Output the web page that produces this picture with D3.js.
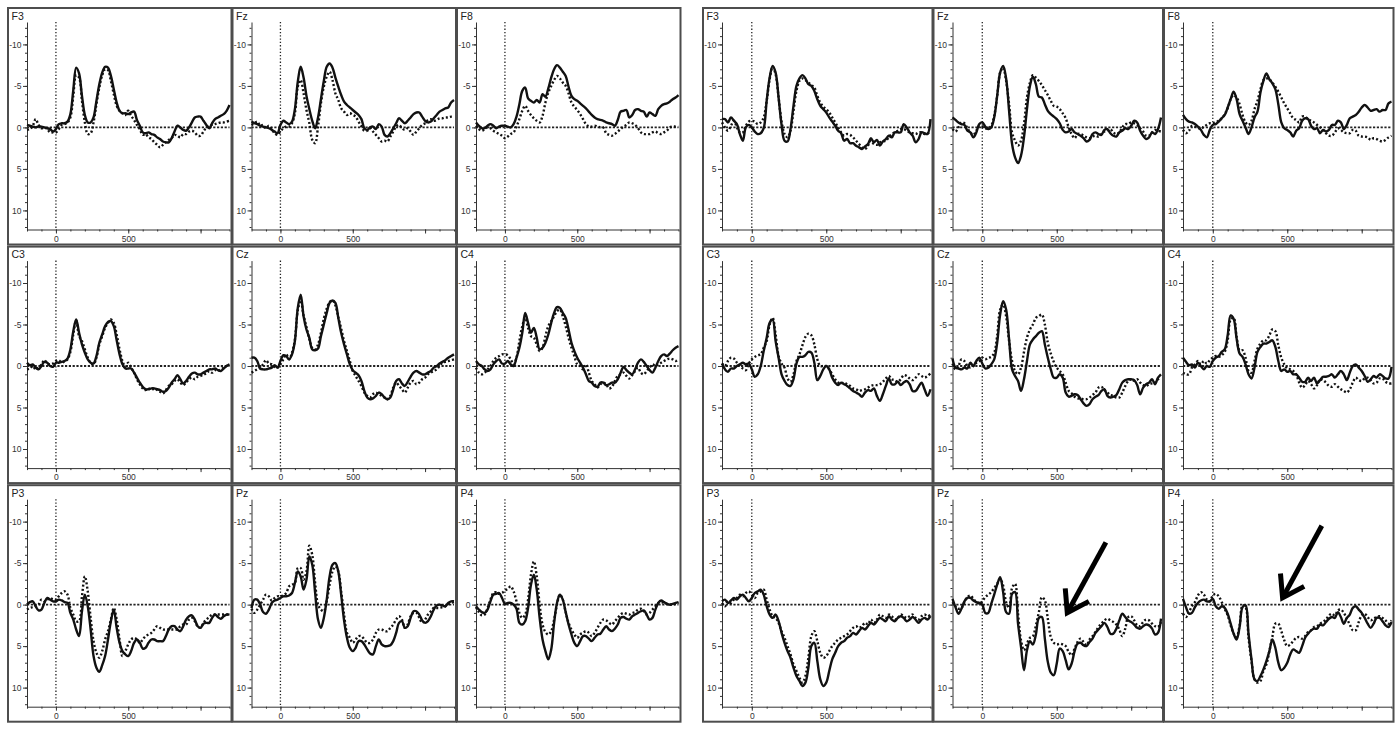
<!DOCTYPE html>
<html><head><meta charset="utf-8">
<script src="https://cdn.jsdelivr.net/npm/d3@7"></script>
<style>
html,body{margin:0;padding:0;background:#fff;}
svg{display:block;font-family:"Liberation Sans",Arial,sans-serif;}
</style></head><body>
<svg id="chart" width="1400" height="730"></svg>
<script>
// ---- sampling grid (ms) ----
const times = [-200,-180,-160,-140,-120,-100,-80,-60,-40,-20,
  0,20,40,60,80,100,120,140,160,180,
  200,220,240,260,280,300,320,340,360,380,
  400,420,440,460,480,500,520,540,560,580,
  600,620,640,660,680,700,720,740,760,780,
  800,820,840,860,880,900,920,940,960,980,
  1000,1020,1040,1060,1080,1100,1120,1140,1160,1180,1200];

const channels = ["F3","Fz","F8","C3","Cz","C4","P3","Pz","P4"];
const yTickValues = [-10,-5,0,5,10];
const yMinorTicks = [-12,-11,-10,-9,-8,-7,-6,-5,-4,-3,-2,-1,0,1,2,3,4,5,6,7,8,9,10,11,12];
const xMajorTicks = [0,500,1000];
const xTickLabels = [0,500];
const xMinorTicks = [-200,-100,0,100,200,300,400,500,600,700,800,900,1000,1100,1200];

// ---- left block, solid ----
const L_F3_solid = [-0.3,-0.2,-0.1,0.0,-0.1,-0.1,0.0,0.1,0.2,0.5,
 0.2,-0.4,-0.5,-0.5,-0.7,-1.6,-4.5,-7.2,-6.5,-3.8,
 -1.5,-0.6,-0.6,-1.2,-3.2,-5.2,-6.6,-7.3,-7.2,-6.2,
 -4.6,-3.0,-2.0,-1.7,-1.7,-1.6,-1.8,-1.9,-0.9,-0.2,
 0.6,0.7,0.6,0.8,0.9,1.2,1.4,1.7,1.8,1.8,
 1.3,0.5,-0.2,0.0,0.3,0.4,0.0,-0.6,-1.2,-1.3,
 -1.3,-0.8,-0.3,0.1,-0.5,-1.0,-1.2,-1.4,-1.6,-2.0,
 -2.7];
const L_F3_dotted = [0.3,0.2,-0.2,-1.0,-0.3,0.1,0.0,0.2,0.6,0.6,
 0.6,0.2,-0.3,-0.4,-0.6,-1.2,-3.8,-6.3,-6.0,-3.2,
 -0.6,0.8,0.7,-0.6,-2.8,-4.8,-6.3,-7.0,-6.9,-5.6,
 -4.0,-2.6,-2.0,-1.7,-1.5,-2.0,-1.4,-0.9,-0.3,0.2,
 0.9,0.8,1.2,1.4,1.8,2.1,2.4,2.1,1.8,1.5,
 1.3,0.9,1.0,1.2,0.8,0.8,0.5,0.4,0.6,1.0,
 1.0,0.5,0.0,-0.2,-0.3,-0.4,-0.5,-0.6,-0.6,-0.7,
 -0.8];
const L_Fz_solid = [-0.7,-0.5,-0.4,-0.2,-0.1,0.0,0.1,0.3,0.5,0.7,
 -0.3,-0.8,-0.6,-0.4,-0.7,-2.2,-5.5,-7.3,-6.0,-3.8,
 -2.2,-0.8,0.1,-1.2,-3.4,-5.6,-7.3,-7.7,-7.2,-6.0,
 -4.9,-3.9,-3.1,-2.7,-2.4,-2.1,-1.8,-1.5,-1.0,0.1,
 0.3,0.0,-0.1,0.2,-0.4,-0.1,0.9,1.1,0.7,0.1,
 -0.5,-1.1,-0.8,-0.5,-0.8,-1.2,-1.6,-1.8,-1.8,-1.3,
 -0.8,-0.6,-0.7,-1.1,-1.5,-1.9,-2.1,-2.3,-2.4,-3.0,
 -3.3];
const L_Fz_dotted = [-0.3,-0.5,-0.7,-0.2,-0.3,0.1,-0.2,0.2,0.7,0.9,
 0.5,0.1,-0.1,-0.1,-0.5,-1.7,-4.9,-5.7,-4.1,-2.1,
 -0.5,1.5,1.9,-0.1,-2.9,-4.9,-6.1,-6.7,-5.7,-4.1,
 -3.3,-2.3,-1.9,-1.5,-1.7,-1.5,-1.3,-0.7,-0.1,0.4,
 0.4,0.1,0.5,0.9,1.3,1.7,1.6,1.7,1.1,0.5,
 -0.1,-0.3,0.1,0.3,0.1,0.5,0.9,0.5,0.1,-0.3,
 -0.5,-0.9,-1.0,-0.8,-0.9,-1.1,-1.1,-1.2,-1.2,-1.3,
 -1.4];
const L_F8_solid = [-0.6,-0.2,0.1,0.1,-0.2,-0.4,-0.2,0.1,-0.1,-0.2,
 -0.2,-0.1,0.0,-0.4,-1.3,-2.8,-4.4,-4.8,-3.5,-3.2,
 -3.0,-3.3,-3.0,-4.0,-3.7,-4.7,-6.0,-7.0,-7.5,-7.2,
 -6.7,-6.2,-4.9,-3.8,-3.4,-3.2,-2.9,-2.6,-2.3,-1.9,
 -1.5,-1.2,-1.0,-0.9,-0.8,-0.6,-0.5,-0.4,-0.2,-0.9,
 -1.9,-2.0,-2.1,-1.2,-1.5,-2.1,-2.2,-2.0,-1.9,-1.3,
 -1.8,-1.6,-1.4,-2.2,-2.6,-2.8,-2.9,-3.1,-3.4,-3.6,
 -3.9];
const L_F8_dotted = [-0.2,0.2,0.4,0.2,0.0,0.1,0.4,0.6,0.8,1.0,
 1.3,1.1,0.8,0.6,-0.1,-1.0,-2.0,-2.6,-2.0,-1.5,
 -1.1,-0.8,-0.6,-1.4,-3.0,-4.2,-5.0,-5.7,-6.2,-5.9,
 -5.4,-5.0,-4.1,-3.0,-2.5,-2.1,-1.6,-1.0,-0.4,-0.1,
 -0.1,-0.2,-0.1,0.0,0.0,0.7,0.9,1.0,0.8,0.5,
 0.2,-0.1,-0.3,-0.6,-0.5,-0.3,0.1,0.6,0.8,0.8,
 0.8,0.6,0.5,0.7,0.8,0.6,0.4,0.0,-0.1,-0.1,
 -0.1];
const L_C3_solid = [-0.4,-0.1,-0.2,0.2,0.4,0.0,-0.5,-0.4,0.0,0.1,
 -0.4,-0.4,-0.5,-0.6,-0.9,-2.0,-4.2,-5.6,-4.0,-2.6,
 -1.6,-0.8,-0.4,-0.3,-1.2,-2.8,-3.8,-4.8,-5.3,-5.4,
 -4.8,-3.1,-1.4,-0.2,0.3,0.3,0.3,0.8,1.4,2.0,
 2.5,2.8,2.8,2.7,2.7,2.8,2.9,3.1,3.0,2.6,
 2.0,1.6,1.1,1.6,2.1,1.8,1.3,0.9,0.8,1.0,
 1.0,0.8,0.6,0.4,0.4,0.3,0.5,0.6,0.3,0.0,
 -0.2];
const L_C3_dotted = [0.4,0.3,0.0,0.4,0.2,-0.2,-0.7,-0.3,-0.2,-0.3,
 -0.6,-0.7,-0.4,-0.6,-0.8,-1.7,-3.8,-5.5,-3.6,-3.0,
 -2.0,-1.0,-0.4,-0.2,-1.0,-2.6,-3.6,-4.6,-5.2,-5.6,
 -5.2,-3.8,-2.0,-0.6,0.1,-0.4,0.2,0.8,1.6,2.2,
 2.7,2.9,2.7,2.9,2.7,2.9,3.1,3.3,2.9,2.4,
 2.2,1.8,1.6,2.0,2.3,2.0,1.6,1.4,1.6,1.3,
 1.2,1.0,0.9,0.6,0.8,0.5,0.6,0.4,0.2,0.0,
 -0.2];
const L_Cz_solid = [-1.0,-1.0,-0.6,0.3,0.4,0.4,0.3,0.2,-0.1,0.2,
 -0.6,-1.3,-1.2,-0.8,-1.4,-3.0,-7.0,-8.6,-6.0,-4.4,
 -3.4,-2.0,-1.9,-2.1,-3.6,-5.0,-6.4,-7.6,-7.9,-7.6,
 -5.8,-4.0,-2.6,-1.4,-0.2,0.5,0.8,1.1,1.8,3.0,
 3.8,4.0,3.9,3.6,3.2,3.4,3.8,4.0,3.8,2.8,
 1.8,1.6,2.1,2.4,1.9,1.3,0.8,0.6,0.8,1.0,
 1.0,0.8,0.6,0.2,0.0,-0.3,-0.5,-0.7,-1.0,-1.2,
 -1.4];
const L_Cz_dotted = [0.8,0.6,0.4,0.2,-0.2,-0.7,-0.3,-0.2,0.1,0.2,
 -0.2,-0.8,-1.4,-0.8,-1.6,-3.2,-6.7,-7.9,-6.1,-4.7,
 -3.2,-2.2,-2.0,-2.6,-4.0,-5.7,-6.9,-7.7,-7.9,-7.3,
 -5.9,-4.5,-3.0,-1.8,-0.6,0.6,1.2,1.8,2.4,3.2,
 3.6,3.8,3.4,3.2,3.4,3.6,3.8,4.0,3.6,2.6,
 2.0,2.4,2.8,3.2,2.6,2.0,1.8,2.2,2.0,1.6,
 1.4,1.0,0.8,0.6,0.4,0.0,-0.4,-0.5,-0.6,-0.7,
 -0.8];
const L_C4_solid = [-0.6,-0.2,0.0,0.4,0.6,0.4,-0.2,-0.6,-0.8,-0.3,
 -0.3,-0.6,-0.2,0.0,-1.0,-2.2,-4.0,-6.4,-5.2,-4.0,
 -4.6,-3.4,-2.0,-2.2,-2.8,-3.8,-5.2,-6.4,-7.1,-7.0,
 -6.4,-5.8,-4.4,-2.8,-1.8,-1.0,-0.4,0.2,1.0,1.8,
 2.0,2.4,2.5,2.0,2.0,2.3,2.2,2.0,2.0,1.6,
 0.8,0.1,0.5,0.8,1.0,0.4,-0.4,-0.8,-0.5,0.0,
 0.5,0.8,0.2,-0.6,-1.2,-1.4,-1.2,-1.5,-1.9,-2.2,
 -2.4];
const L_C4_dotted = [0.2,0.8,1.0,0.8,0.4,0.0,-0.6,-1.0,-1.2,-1.4,
 -1.4,-1.3,-0.8,-0.2,-1.0,-3.0,-4.8,-5.8,-4.6,-3.6,
 -3.4,-2.6,-1.8,-2.2,-3.6,-4.8,-5.4,-6.0,-6.6,-6.8,
 -6.0,-4.8,-3.4,-2.2,-1.2,-0.2,0.0,0.4,-0.2,0.8,
 1.8,2.2,2.6,2.2,2.0,2.2,2.7,2.5,1.8,1.2,
 1.0,0.8,1.2,1.5,1.1,0.6,0.2,0.8,1.0,0.6,
 0.2,-0.2,0.0,-0.2,-0.4,-0.6,-0.8,-0.9,-0.8,-0.6,
 -0.8];
const L_P3_solid = [0.0,-0.3,-0.4,0.2,0.7,0.6,-0.2,-0.8,-0.6,-0.4,
 -0.4,-0.6,-0.5,-0.3,-0.2,1.0,1.8,3.0,3.8,0.8,
 -1.2,0.2,3.0,6.2,7.6,8.1,7.3,6.2,4.2,2.0,
 0.6,2.8,4.6,5.6,6.0,6.2,5.6,4.6,4.2,4.6,
 5.3,5.2,4.6,4.2,4.2,4.4,4.4,4.4,3.8,3.0,
 2.6,2.6,3.0,3.2,2.6,1.8,1.4,1.3,1.8,2.6,
 2.8,2.3,2.2,2.2,1.6,1.2,1.5,1.7,1.4,1.2,
 1.2];
const L_P3_dotted = [0.6,0.4,0.3,0.2,0.0,-0.6,-0.4,-0.6,-0.8,-0.6,
 -0.6,-1.0,-1.4,-1.6,-1.2,0.4,1.2,2.0,2.0,-1.0,
 -3.4,-1.6,1.6,4.4,5.8,6.4,5.6,4.2,3.2,1.8,
 0.4,1.8,4.2,6.2,5.6,4.8,4.2,4.0,4.2,4.6,
 4.2,3.8,3.6,3.4,3.0,2.6,2.8,3.0,3.0,3.0,
 3.0,3.0,3.0,2.6,2.4,2.4,1.8,1.6,2.0,2.6,
 2.8,2.2,1.8,1.5,1.2,1.2,1.2,1.2,1.2,1.2,
 1.2];
const L_Pz_solid = [0.4,-0.6,-0.6,0.0,0.9,1.1,0.6,-0.2,-0.5,-0.6,
 -0.8,-1.0,-1.0,-1.1,-1.4,-2.6,-4.0,-3.4,-1.8,-3.0,
 -5.8,-4.8,-1.4,1.8,2.8,1.6,-0.6,-3.4,-4.8,-5.0,
 -4.0,-1.2,1.9,4.0,5.2,5.6,5.2,4.4,4.4,4.8,
 5.4,5.9,6.0,5.0,4.2,4.8,5.0,5.0,4.9,4.4,
 3.4,2.2,2.0,2.8,2.6,1.6,0.8,0.8,1.2,1.9,
 2.2,2.0,1.4,0.6,0.1,0.0,0.1,0.2,-0.2,-0.4,
 -0.4];
const L_Pz_dotted = [0.5,1.0,0.6,0.0,-0.6,-1.2,-1.0,-0.5,-0.8,-1.0,
 -1.0,-1.1,-1.4,-2.2,-2.4,-2.6,-4.4,-4.4,-3.0,-4.0,
 -7.1,-6.0,-2.6,0.0,0.6,0.8,-0.4,-2.4,-4.0,-4.6,
 -4.0,-1.6,1.2,3.4,4.0,4.6,4.2,3.8,3.8,4.2,
 4.6,4.6,4.2,3.4,3.0,3.0,3.2,3.2,2.8,2.4,
 1.8,1.4,1.8,2.8,2.4,1.4,1.0,1.0,1.6,2.2,
 1.8,1.2,0.8,0.4,0.4,0.4,0.3,0.2,0.0,-0.2,
 -0.3];
const L_P4_solid = [0.2,0.6,0.9,1.0,0.6,-0.4,-1.2,-1.3,-1.4,-0.8,
 -0.1,-0.2,-0.2,0.0,0.5,2.2,2.4,2.0,0.4,-2.4,
 -3.6,-1.8,1.6,4.2,5.6,6.6,5.4,2.2,-0.2,-1.2,
 -0.6,0.9,2.4,3.6,4.6,5.0,4.4,3.8,3.8,4.1,
 4.4,4.0,3.6,3.5,3.0,2.6,3.0,3.2,2.9,2.4,
 1.6,1.5,1.7,1.8,1.4,1.2,1.0,0.8,0.7,1.2,
 1.8,1.6,0.6,-0.2,-0.5,-0.3,-0.1,0.0,-0.1,-0.2,
 -0.3];
const L_P4_dotted = [0.3,0.9,1.3,1.2,0.4,-0.6,-1.4,-1.5,-1.3,-1.4,
 -1.7,-1.9,-2.2,-1.6,-0.4,1.0,1.6,1.2,-0.6,-3.6,
 -5.2,-3.4,0.0,2.4,3.3,3.6,3.2,1.8,0.0,-1.2,
 -0.6,0.9,2.2,3.0,3.6,4.0,3.6,3.4,3.2,3.4,
 3.8,3.4,2.8,2.2,1.8,1.9,2.2,2.4,2.0,1.6,
 1.2,1.0,1.1,1.2,1.0,0.9,0.6,0.5,0.8,1.2,
 1.0,0.6,0.2,-0.2,-0.3,-0.2,-0.1,0.0,0.0,-0.1,
 -0.2];

// ---- right block ----
const R_F3_solid = [-1.0,-1.0,-0.6,-1.2,-0.8,-0.4,0.8,1.6,0.0,-0.3,
 0.0,0.5,0.8,0.7,0.1,-3.2,-6.0,-7.4,-6.6,-3.6,
 -0.3,1.6,1.7,0.2,-2.6,-5.0,-5.9,-6.3,-5.9,-5.2,
 -5.0,-4.4,-3.4,-2.6,-2.2,-1.8,-1.2,-0.7,-0.2,0.4,
 0.7,1.6,1.4,1.9,1.9,2.2,2.4,2.6,2.3,2.0,
 1.3,1.8,1.5,2.2,1.7,1.4,1.0,1.2,0.6,0.6,
 0.6,-0.4,0.0,0.6,1.0,1.8,1.4,0.6,0.7,0.8,
 -1.0];
const R_F3_dotted = [-0.6,0.0,0.4,-0.2,-0.8,0.0,0.6,0.6,-0.2,-0.7,
 -0.8,-0.7,-0.4,-0.6,-1.2,-3.2,-5.8,-7.3,-6.4,-3.6,
 -0.7,0.8,1.2,0.4,-2.0,-4.4,-5.6,-5.9,-5.7,-5.4,
 -5.1,-4.8,-3.8,-3.0,-2.5,-2.2,-1.8,-1.2,-0.6,0.0,
 0.6,1.0,0.8,0.9,1.2,1.6,2.0,2.4,2.6,2.2,
 1.6,2.0,2.1,1.8,1.7,1.6,1.2,0.8,0.6,0.4,
 0.2,0.2,0.4,0.6,0.7,0.8,0.6,0.6,0.8,0.7,
 0.6];
const R_Fz_solid = [-1.2,-0.9,-0.6,-0.4,-0.3,0.4,0.6,1.2,0.6,-0.4,
 -0.6,-0.1,0.2,0.0,-1.2,-3.8,-6.6,-7.4,-5.9,-2.0,
 2.0,3.6,4.3,3.4,1.2,-2.2,-5.0,-6.1,-5.2,-3.7,
 -3.6,-2.8,-2.0,-1.6,-1.3,-1.0,-0.5,0.3,0.6,0.5,
 0.2,0.6,0.8,1.0,1.3,1.7,1.5,0.8,0.6,0.8,
 0.9,0.3,0.2,0.7,1.0,1.1,0.6,0.4,0.1,0.2,
 -0.2,-0.8,-0.6,0.4,1.0,1.4,1.2,0.6,0.8,0.2,
 -1.2];
const R_Fz_dotted = [0.2,0.5,0.0,-0.6,-0.5,0.1,0.6,0.9,0.4,-0.2,
 -0.1,0.1,0.1,-0.2,-1.4,-3.8,-6.6,-7.2,-5.6,-2.8,
 0.6,1.6,2.2,1.6,-0.4,-3.6,-5.4,-6.3,-6.0,-5.6,
 -5.1,-4.5,-3.9,-3.2,-2.6,-2.5,-2.2,-1.7,-1.1,0.0,
 0.8,1.3,0.8,0.8,1.0,1.2,1.3,1.1,1.0,1.1,
 0.8,0.5,0.4,0.2,0.6,0.8,0.6,0.0,-0.4,-0.4,
 -0.6,-0.5,-0.3,0.1,0.5,1.0,1.0,0.6,0.3,0.4,
 0.5];
const R_F8_solid = [-1.5,-1.0,-0.7,-0.6,-0.4,-0.1,0.3,0.9,1.2,0.3,
 -0.3,-0.4,-0.7,-1.1,-1.5,-2.4,-3.4,-4.3,-3.4,-1.6,
 -0.8,0.0,0.8,0.0,-1.2,-1.9,-4.2,-5.6,-6.5,-5.8,
 -5.3,-4.6,-2.8,-0.6,0.1,0.3,0.6,1.1,0.4,0.1,
 -0.8,-1.1,-1.0,-0.2,0.2,0.1,0.7,0.3,0.5,0.3,
 -0.3,-0.3,-0.8,-0.6,0.2,-0.3,-1.1,-1.3,-1.5,-1.9,
 -2.4,-2.7,-2.4,-2.0,-2.1,-2.2,-1.9,-2.1,-2.1,-2.9,
 -3.1];
const R_F8_dotted = [0.3,0.7,0.4,-0.2,-0.1,0.0,0.2,-0.1,-0.3,-0.5,
 -0.5,-0.6,-0.8,-1.1,-1.6,-2.3,-3.4,-3.9,-3.6,-2.8,
 -1.5,-0.6,-0.3,-0.8,-2.2,-3.2,-4.6,-5.7,-5.9,-5.8,
 -5.4,-4.9,-4.3,-3.6,-2.9,-2.3,-1.7,-1.1,-0.9,-0.6,
 -1.3,-1.3,-1.0,-0.8,-0.6,-0.3,0.0,0.3,0.7,1.0,
 1.0,0.6,0.1,0.3,0.6,0.7,0.7,0.3,0.4,1.0,
 1.1,1.1,1.2,1.5,1.3,1.4,1.6,1.7,1.5,1.2,
 1.0];
const R_C3_solid = [-0.3,0.4,0.7,0.3,0.3,0.0,-0.2,-0.4,-0.2,-0.3,
 0.4,1.3,1.0,0.0,-1.8,-3.4,-5.2,-5.6,-3.0,-1.0,
 1.0,1.8,2.3,2.4,1.6,-0.3,-1.1,-1.1,-1.3,-1.7,
 -1.6,-0.4,1.7,1.2,0.4,0.0,0.4,1.4,2.0,2.3,
 2.0,2.2,2.4,2.7,3.0,3.2,3.4,3.7,3.2,2.9,
 3.0,2.7,3.6,4.2,3.4,2.4,1.5,2.2,2.2,1.9,
 2.3,2.0,1.8,2.2,3.0,3.0,2.5,2.0,2.8,3.6,
 2.8];
const R_C3_dotted = [-0.3,0.0,-0.6,-1.0,-0.9,-0.4,0.0,0.3,0.5,-0.3,
 -0.8,-1.1,-1.3,-1.4,-2.2,-3.0,-5.0,-5.8,-3.8,-1.2,
 -0.3,0.2,1.5,1.9,1.0,-0.6,-1.4,-2.5,-3.5,-3.9,
 -3.7,-2.6,-0.8,0.0,0.0,0.0,0.4,1.0,1.6,2.0,
 2.1,2.0,2.2,2.4,2.7,2.8,3.0,2.9,2.8,2.6,
 2.4,2.3,2.3,2.2,1.9,1.5,1.2,1.6,1.7,1.9,
 1.6,1.1,1.2,1.5,1.7,1.4,1.0,1.2,1.4,1.2,
 0.9];
const R_Cz_solid = [-0.9,0.2,0.3,0.4,0.2,0.3,-0.4,0.0,-0.6,-1.0,
 -0.3,0.3,0.2,-0.2,-0.8,-2.8,-6.2,-7.8,-6.8,-3.2,
 0.4,1.2,1.8,3.0,1.6,-0.6,-2.6,-3.2,-3.6,-4.0,
 -4.2,-2.6,-1.0,0.4,1.4,1.4,1.0,1.4,3.2,3.7,
 3.6,3.4,3.5,4.0,4.5,4.8,4.6,4.0,3.7,3.5,
 3.0,2.8,3.6,3.8,3.7,3.5,2.8,2.0,1.7,1.6,
 1.6,1.7,2.3,3.4,2.6,2.2,2.0,1.6,2.2,1.4,
 1.0];
const R_Cz_dotted = [-0.3,0.4,0.0,-0.8,-0.6,0.0,0.2,0.0,-0.4,-0.6,
 -1.0,-0.8,-1.0,-1.1,-1.6,-3.6,-6.8,-7.4,-6.0,-3.0,
 -0.6,0.6,1.0,0.2,-1.7,-3.4,-4.4,-5.0,-5.8,-6.0,
 -6.2,-5.0,-2.8,-1.5,-0.5,0.2,0.6,1.0,2.0,3.0,
 3.3,3.7,3.9,3.9,4.0,4.0,3.8,3.5,3.2,2.6,
 2.5,2.9,3.2,3.5,3.6,3.8,3.8,3.2,2.4,1.8,
 1.6,1.8,1.6,2.0,2.3,2.4,2.2,2.1,2.0,1.6,
 1.4];
const R_C4_solid = [-1.0,-0.5,-0.1,-0.2,0.2,-0.4,0.0,0.4,0.0,0.1,
 -0.6,-1.0,-1.2,-1.7,-2.0,-3.7,-6.1,-5.7,-3.3,-1.5,
 -1.1,-0.2,1.0,1.5,0.2,-1.7,-2.3,-2.7,-2.7,-2.9,
 -3.1,-2.3,-0.6,0.6,0.4,0.7,0.6,1.0,1.0,1.4,
 1.9,1.9,1.4,1.8,1.4,2.1,1.7,1.3,1.3,1.2,
 1.0,1.4,1.0,0.6,1.0,1.7,0.8,0.0,-0.2,0.2,
 0.6,1.2,1.9,1.6,1.2,1.4,1.0,1.2,1.5,1.5,
 0.1];
const R_C4_dotted = [0.8,1.0,1.0,0.2,-0.2,-0.6,-0.2,-0.6,-0.3,-0.7,
 -1.0,-1.2,-1.1,-1.3,-1.7,-3.1,-5.6,-5.8,-3.5,-1.9,
 -1.9,-1.0,0.6,0.8,-0.6,-2.1,-2.7,-3.1,-3.1,-3.7,
 -4.4,-4.2,-2.5,-1.0,-0.2,0.3,0.4,0.6,1.0,2.0,
 2.6,2.3,1.8,2.2,2.7,2.3,1.6,1.7,2.0,2.4,
 2.5,2.2,2.5,2.8,3.0,3.2,2.8,2.0,1.4,1.7,
 1.8,1.5,1.4,1.7,2.1,2.0,1.5,1.5,1.9,2.1,
 2.1];
const R_P3_solid = [-0.4,-0.6,-0.2,-0.5,-0.8,-0.6,-1.0,-1.2,-0.8,-0.4,
 -0.8,-1.4,-1.6,-1.8,-1.2,0.2,1.2,1.6,1.2,2.0,
 3.4,4.6,5.6,6.4,7.6,8.6,9.2,9.8,9.4,7.6,
 5.0,4.6,6.8,9.0,9.8,9.4,8.0,6.6,5.8,5.0,
 4.6,4.4,4.0,3.8,3.4,3.6,3.2,2.8,3.0,2.6,
 2.2,2.4,2.0,1.6,1.8,2.0,1.4,1.8,2.0,1.6,
 1.4,1.6,2.0,1.8,1.5,1.8,2.2,1.8,1.6,1.8,
 1.4];
const R_P3_dotted = [-0.2,0.2,-0.4,-0.2,-0.6,-0.8,-1.2,-1.0,-1.4,-1.6,
 -1.2,-0.8,-1.4,-1.6,-1.8,-0.6,0.6,1.4,1.6,2.2,
 3.2,4.0,5.0,6.0,7.2,8.0,8.8,9.4,8.6,6.4,
 3.8,3.2,4.4,5.8,6.4,6.2,5.6,5.0,4.6,4.2,
 4.0,3.8,3.6,3.2,2.8,2.6,2.8,2.6,2.2,2.4,
 1.8,2.2,1.8,1.2,1.4,1.6,1.2,1.4,1.8,1.6,
 1.2,1.4,1.6,1.4,1.2,1.6,1.8,1.4,1.2,1.4,
 1.2];
const R_Pz_solid = [-0.7,0.3,1.1,0.5,-0.4,-0.8,-0.8,-0.5,-0.3,-0.2,
 0.0,1.0,1.0,-0.1,-1.2,-2.4,-3.3,-1.5,0.9,1.1,
 -1.3,-1.5,2.3,5.1,7.9,5.5,4.4,4.8,3.6,1.6,
 1.5,4.1,6.9,8.2,8.5,7.1,5.3,5.6,6.7,7.8,
 7.1,5.6,4.7,4.6,4.9,5.0,4.5,4.1,3.4,3.0,
 2.6,2.2,2.7,3.5,3.5,2.9,1.9,1.1,1.5,1.9,
 2.1,2.4,2.8,2.9,2.6,2.4,2.5,2.9,3.6,3.4,
 1.7];
const R_Pz_dotted = [-0.3,0.2,0.5,0.4,-0.3,-0.9,-1.1,-0.7,-0.3,-0.1,
 -0.4,-0.9,-1.2,-1.5,-2.0,-2.5,-3.1,-2.3,-0.3,0.4,
 -2.0,-2.5,1.1,4.3,5.5,4.7,4.0,3.8,2.5,0.9,
 -0.9,-0.5,1.7,3.9,4.6,4.8,4.7,4.8,5.0,5.7,
 6.1,5.3,4.5,4.1,4.5,4.9,4.2,3.8,3.3,2.7,
 2.3,1.9,1.7,1.9,2.1,2.4,3.0,3.8,2.9,1.5,
 1.4,1.9,2.5,2.6,2.1,1.8,1.9,2.3,2.6,2.7,
 2.1];
const R_P4_solid = [-0.7,0.3,1.1,1.0,0.3,-0.2,-0.5,-0.6,-0.4,-0.4,
 -0.7,0.2,0.5,0.2,0.4,1.1,2.3,3.5,4.2,2.7,
 0.3,0.1,3.5,6.6,9.0,9.2,8.6,7.8,6.8,5.6,
 4.2,5.2,7.0,7.9,7.6,7.0,6.0,5.4,5.6,5.8,
 5.0,4.0,3.5,3.1,2.9,2.9,2.4,2.5,2.1,1.7,
 1.5,1.6,0.9,1.5,2.3,1.6,1.2,0.4,0.2,0.6,
 1.0,1.6,2.3,2.8,2.3,1.6,1.6,2.0,2.5,2.7,
 2.1];
const R_P4_dotted = [1.1,1.5,0.9,0.2,-0.3,-1.1,-1.5,-1.2,-0.6,-0.4,
 -1.1,-1.3,-1.0,-0.3,0.5,1.3,2.5,3.5,3.9,2.5,
 0.1,0.3,4.0,6.8,9.0,9.4,9.2,8.0,7.2,5.6,
 3.9,2.3,2.3,3.2,4.3,5.0,4.8,4.4,4.0,3.9,
 4.1,3.8,3.3,3.1,2.7,2.6,2.3,2.1,1.8,1.3,
 1.1,1.3,0.7,0.6,1.0,1.7,2.4,3.1,3.1,2.1,
 1.3,1.1,1.5,1.9,1.7,1.5,1.4,1.6,1.9,2.3,
 1.9];

// ---- arrow annotations (right block), in ms / µV ----
const arrowChannels = ["Pz","P4"];
const arrowTailT = [830, 732];
const arrowTailV = [-7.5, -9.5];
const arrowTipT = [561, 459];
const arrowTipV = [1.3, -0.5];

// ---- assemble ----
const leftSolid = [L_F3_solid,L_Fz_solid,L_F8_solid,L_C3_solid,L_Cz_solid,L_C4_solid,L_P3_solid,L_Pz_solid,L_P4_solid];
const leftDotted = [L_F3_dotted,L_Fz_dotted,L_F8_dotted,L_C3_dotted,L_Cz_dotted,L_C4_dotted,L_P3_dotted,L_Pz_dotted,L_P4_dotted];
const rightSolid = [R_F3_solid,R_Fz_solid,R_F8_solid,R_C3_solid,R_Cz_solid,R_C4_solid,R_P3_solid,R_Pz_solid,R_P4_solid];
const rightDotted = [R_F3_dotted,R_Fz_dotted,R_F8_dotted,R_C3_dotted,R_Cz_dotted,R_C4_dotted,R_P3_dotted,R_Pz_dotted,R_P4_dotted];

const svg = d3.select("#chart");
const blocks = [
  {x0: 8, pitch: 224.5, w: 223.5, solid: leftSolid, dotted: leftDotted, arrows: false},
  {x0: 703, pitch: 230.5, w: 229.5, solid: rightSolid, dotted: rightDotted, arrows: true}
];
const rowY0 = 8, rowPitch = 238.6, panelH = 236.5;

blocks.forEach(b => {
  channels.forEach((ch, i) => {
    const col = i % 3, row = Math.floor(i / 3);
    const px = b.x0 + col * b.pitch, py = rowY0 + row * rowPitch;
    const g = svg.append("g");
    g.append("rect").attr("x", px).attr("y", py).attr("width", b.w).attr("height", panelH)
      .attr("fill", "#fff").attr("stroke", "#4d4d4d").attr("stroke-width", 2);

    const x = d3.scaleLinear().domain([-200, 1200]).range([px + 19, px + b.w - 2]);
    const y = d3.scaleLinear().domain([-12.7, 12.3]).range([py + 14, py + panelH - 15]);
    const x0 = x.range()[0], y1 = y.range()[1];

    g.append("text").attr("x", px + 3.5).attr("y", py + 11.5).attr("font-size", 10.5)
      .attr("fill", "#222").text(ch);

    // y axis minor + major
    const yMinor = g.append("g").attr("transform", `translate(${x0},0)`)
      .call(d3.axisLeft(y).tickValues(yMinorTicks).tickSize(2).tickSizeOuter(0).tickFormat(""));
    const yMajor = g.append("g").attr("transform", `translate(${x0},0)`)
      .call(d3.axisLeft(y).tickValues(yTickValues).tickSize(4).tickSizeOuter(0).tickPadding(1.5)
        .tickFormat(d => String(d)));
    yMajor.select(".domain").remove();
    // x axis minor + major
    const xMinor = g.append("g").attr("transform", `translate(0,${y1})`)
      .call(d3.axisBottom(x).tickValues(xMinorTicks).tickSize(2).tickSizeOuter(0).tickFormat(""));
    const xMajor = g.append("g").attr("transform", `translate(0,${y1})`)
      .call(d3.axisBottom(x).tickValues(xMajorTicks).tickSize(4).tickSizeOuter(0).tickPadding(2)
        .tickFormat(d => xTickLabels.includes(d) ? String(d) : ""));
    xMajor.select(".domain").remove();
    g.selectAll(".domain").attr("stroke", "#333").attr("stroke-width", 1);
    g.selectAll(".tick line").attr("stroke", "#333").attr("stroke-width", 1);
    g.selectAll(".tick text").attr("font-size", 8.5).attr("fill", "#333")
      .attr("font-family", '"Liberation Sans",Arial,sans-serif');

    // reference lines
    g.append("line").attr("x1", x(0)).attr("x2", x(0)).attr("y1", y.range()[0]).attr("y2", y1)
      .attr("stroke", "#222").attr("stroke-width", 1.3).attr("stroke-dasharray", "1.3,2");
    g.append("line").attr("x1", x(-200)).attr("x2", x(1200)).attr("y1", y(0)).attr("y2", y(0))
      .attr("stroke", "#222").attr("stroke-width", 1.8).attr("stroke-dasharray", "2.2,1.6");

    const line = d3.line().x((d, k) => x(times[k])).y(d => y(d)).curve(d3.curveCatmullRom.alpha(0.5));
    g.append("path").attr("d", line(b.dotted[i])).attr("fill", "none").attr("stroke", "#111")
      .attr("stroke-width", 2.4).attr("stroke-dasharray", "2,2.2");
    g.append("path").attr("d", line(b.solid[i])).attr("fill", "none").attr("stroke", "#111")
      .attr("stroke-width", 2.4).attr("stroke-linejoin", "round");

    if (b.arrows) {
      const ai = arrowChannels.indexOf(ch);
      if (ai >= 0) {
        const tail = [x(arrowTailT[ai]), y(arrowTailV[ai])];
        const tip = [x(arrowTipT[ai]), y(arrowTipV[ai])];
        const ang = Math.atan2(tail[1] - tip[1], tail[0] - tip[0]);
        const L = 27, a = Math.PI / 6;
        const b1 = [tip[0] + L * Math.cos(ang - a), tip[1] + L * Math.sin(ang - a)];
        const b2 = [tip[0] + L * Math.cos(ang + a), tip[1] + L * Math.sin(ang + a)];
        const inset = [tip[0] + 3 * Math.cos(ang), tip[1] + 3 * Math.sin(ang)];
        g.append("line").attr("x1", tail[0]).attr("y1", tail[1]).attr("x2", inset[0]).attr("y2", inset[1])
          .attr("stroke", "#000").attr("stroke-width", 5);
        g.append("path").attr("d", `M${b1[0]},${b1[1]}L${inset[0]},${inset[1]}L${b2[0]},${b2[1]}`)
          .attr("fill", "none").attr("stroke", "#000").attr("stroke-width", 5)
          .attr("stroke-linejoin", "miter").attr("stroke-miterlimit", 10);
      }
    }
  });
});
</script>
</body></html>
